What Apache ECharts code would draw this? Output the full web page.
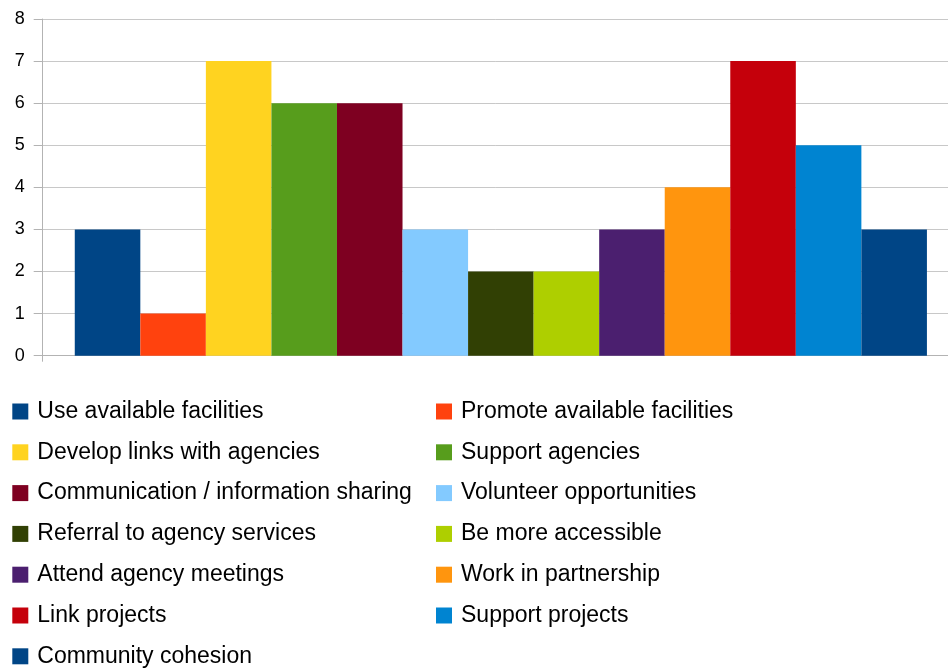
<!DOCTYPE html>
<html>
<head>
<meta charset="utf-8">
<script src="https://cdn.jsdelivr.net/npm/echarts@6/dist/echarts.min.js"></script>
<style>
html,body{margin:0;padding:0;background:#fff;}
#chart{width:948px;height:671px;}
</style>
</head>
<body>
<div id="chart"></div>
<script>
const seriesNames = [
  "Use available facilities",
  "Promote available facilities",
  "Develop links with agencies",
  "Support agencies",
  "Communication / information sharing",
  "Volunteer opportunities",
  "Referral to agency services",
  "Be more accessible",
  "Attend agency meetings",
  "Work in partnership",
  "Link projects",
  "Support projects",
  "Community cohesion"
];
const seriesValues = [3, 1, 7, 6, 6, 3, 2, 2, 3, 4, 7, 5, 3];
const yTicks = [0, 1, 2, 3, 4, 5, 6, 7, 8];
const palette = ["#004586","#ff420e","#ffd320","#579d1c","#7e0021","#83caff","#314004","#aecf00","#4b1f6f","#ff950e","#c5000b","#0084d1","#004586"];

const chart = echarts.init(document.getElementById('chart'), null, {renderer: 'canvas'});
const font = "'Liberation Sans', Arial, sans-serif";
const leftNames = seriesNames.filter((_, i) => i % 2 === 0);
const rightNames = seriesNames.filter((_, i) => i % 2 === 1);
const legendBase = {
  orient: 'vertical',
  top: 399.5,
  height: 271,
  padding: 0,
  itemWidth: 16,
  itemHeight: 16,
  itemGap: 16.8,
  icon: 'rect',
  textStyle: {fontFamily: font, fontSize: 23, lineHeight: 20, color: '#000', padding: [4, 0, 0, 4]}
};
chart.setOption({
  animation: false,
  color: palette,
  grid: {left: 42.7, right: -11, top: 19, bottom: 315.3, containLabel: false, outerBoundsMode: 'none'},
  legend: [
    Object.assign({}, legendBase, {left: 12.3, data: leftNames}),
    Object.assign({}, legendBase, {left: 436, data: rightNames})
  ],
  xAxis: {
    type: 'category',
    data: [''],
    axisLine: {show: true, lineStyle: {color: '#b3b3b3', width: 1}},
    axisTick: {show: true, length: 6, lineStyle: {color: '#b3b3b3'}},
    axisLabel: {show: false}
  },
  yAxis: {
    type: 'value',
    min: yTicks[0],
    max: yTicks[yTicks.length - 1],
    interval: 1,
    axisLine: {show: true, lineStyle: {color: '#b3b3b3', width: 1}},
    axisTick: {show: true, length: 9, lineStyle: {color: '#b3b3b3'}},
    axisLabel: {margin: 18, fontFamily: font, fontSize: 18, color: '#000'},
    splitLine: {show: true, lineStyle: {color: '#c8c8c8', width: 1}}
  },
  series: seriesNames.map((name, i) => ({
    name: name,
    type: 'bar',
    data: [seriesValues[i]],
    barGap: '0%',
    barCategoryGap: '7%',
    itemStyle: {color: palette[i]}
  }))
});
</script>
</body>
</html>
